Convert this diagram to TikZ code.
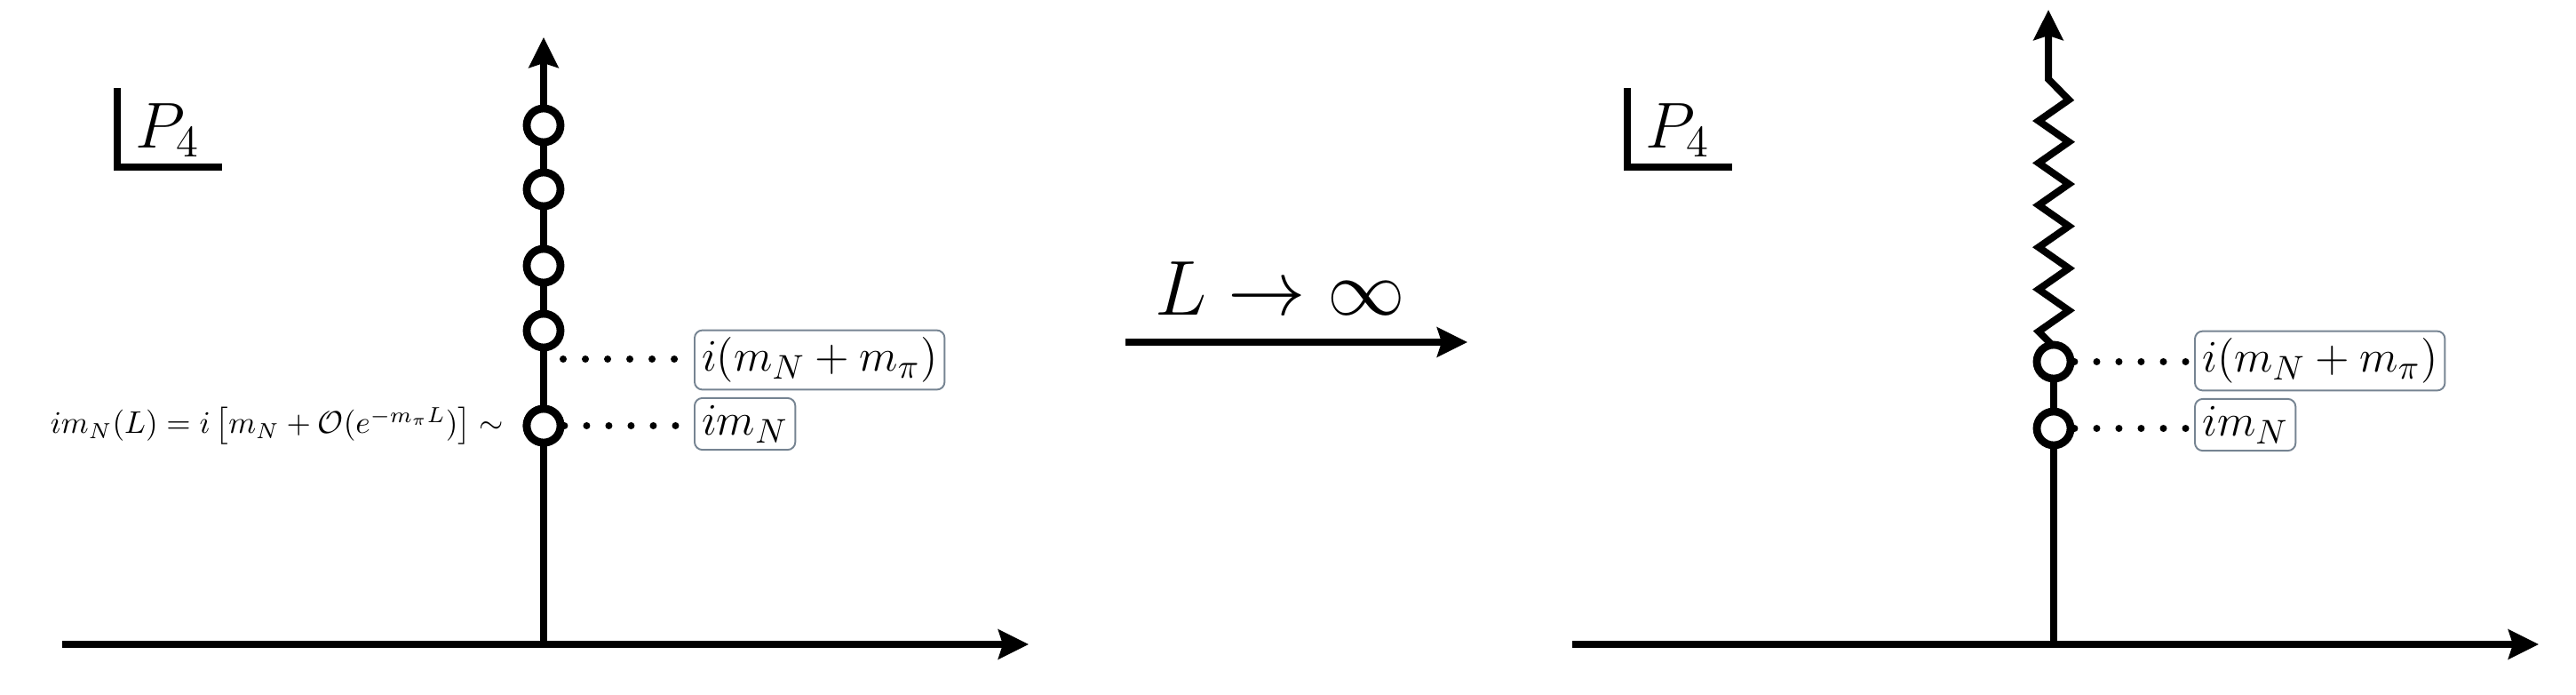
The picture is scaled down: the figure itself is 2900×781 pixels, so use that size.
\documentclass[tikz,border=0pt]{standalone}
\usetikzlibrary{arrows.meta}
\definecolor{boxgray}{RGB}{118,132,146}
\begin{document}
\begin{tikzpicture}[x=0.01cm,y=-0.01cm,
  axis/.style={line width=0.08cm},
  tipped/.style={axis,-{Stealth[length=0.34cm,width=0.33cm,inset=0.05cm]}},
  pole/.style={circle,draw,fill=white,line width=0.088cm,minimum size=0.38cm,inner sep=0pt},
  dotline/.style={line width=0.08cm,line cap=round,dash pattern=on 0pt off 0.25cm},
  lbl/.style={draw=boxgray,line width=0.55pt,rounded corners=2.5pt,inner xsep=2.3pt,inner ysep=2.3pt,font=\fontsize{15}{18}\selectfont,anchor=west},
  ]
\useasboundingbox (0,0) rectangle (2900,781);

% ---------------- left panel ----------------
\coordinate (Lxs) at (70,725);
\coordinate (Lxe) at (1158,725);
\coordinate (Lo) at (612,725);
\coordinate (Lye) at (612,42);
\draw[tipped] (Lxs) -- (Lxe);
\draw[tipped] (Lo) -- (Lye);

% P4 corner label
\coordinate (Pa) at (132,99);
\coordinate (Pb) at (132,188);
\coordinate (Pc) at (250,188);
\draw[axis] (Pa) -- (Pb) -- (Pc);
\node[anchor=base west,inner sep=0pt,font=\fontsize{19.5}{23}\selectfont] (P4L) at (152,166) {$P_4$};

% labels
\node[lbl] (BL1) at (781,405) {$i(m_N + m_\pi)$};
\node[lbl] (BL2) at (781,477) {$im_N$};
\coordinate (Ld) at (634,404);
\draw[dotline] (Ld) -- (Ld -| BL1.west);

\node[pole] (L5) at (612,479) {};
\draw[dotline] (L5.east) -- (L5.east -| BL2.west);
\node[pole] (L1) at (612,141) {};
\node[pole] (L2) at (612,213) {};
\node[pole] (L3) at (612,299) {};
\node[pole] (L4) at (612,372) {};
\node[pole] (L5b) at (612,479) {};

\node[anchor=east,inner sep=0pt,font=\fontsize{10.3}{12}\selectfont] (form) at (568,479)
  {$im_N(L) = i\left[m_N + \mathcal{O}(e^{-m_\pi L})\right] \sim$};

% ---------------- middle arrow ----------------
\coordinate (Ms) at (1267,385);
\coordinate (Me) at (1652,385);
\draw[tipped] (Ms) -- (Me);
\node[anchor=base,inner sep=0pt,font=\Huge] (lim) at (1441,354) {$L \to \infty$};

% ---------------- right panel ----------------
\coordinate (Rxs) at (1770,725);
\coordinate (Rxe) at (2858,725);
\coordinate (Ro) at (2312,725);
\draw[tipped] (Rxs) -- (Rxe);

\coordinate (Qa) at (1832,99);
\coordinate (Qb) at (1832,188);
\coordinate (Qc) at (1950,188);
\draw[axis] (Qa) -- (Qb) -- (Qc);
\node[anchor=base west,inner sep=0pt,font=\fontsize{19.5}{23}\selectfont] (P4R) at (1852,166) {$P_4$};

\node[lbl] (BR1) at (2470,406) {$i(m_N + m_\pi)$};
\node[lbl] (BR2) at (2470,478) {$im_N$};

\coordinate (R2c) at (2312,407);
\draw[axis] (Ro) -- (R2c);
\draw[tipped] (R2c) -- (2312,390) -- (2295,373) -- (2329,349.3) -- (2295,325.6)
  -- (2329,301.9) -- (2295,278.2) -- (2329,254.5) -- (2295,230.8) -- (2329,207.1)
  -- (2295,183.4) -- (2329,159.7) -- (2295,136) -- (2329,112.3) -- (2306,89) -- (2306,11);

\node[pole] (R1) at (2312,482) {};
\node[pole] (R2) at (2312,407) {};
\draw[dotline] (R1.east) -- (R1.east -| BR2.west);
\draw[dotline] (R2.east) -- (R2.east -| BR1.west);
\end{tikzpicture}
\end{document}
